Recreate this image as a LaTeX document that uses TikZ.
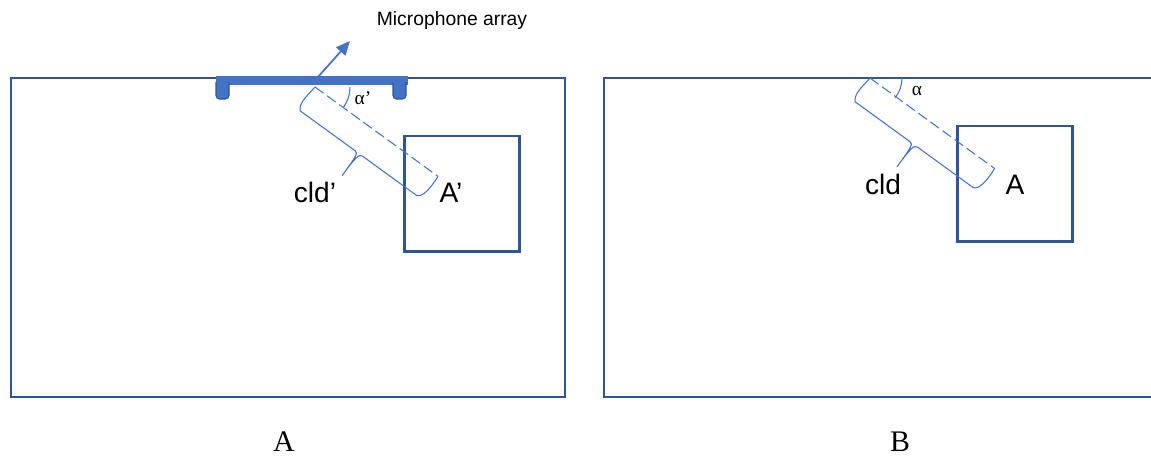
\documentclass[tikz,border=0pt]{standalone}
\usepackage{fontspec}
\setmainfont{Liberation Serif}
\setsansfont{Liberation Sans}
\usetikzlibrary{arrows.meta}
\definecolor{frameblue}{HTML}{2F5597}
\definecolor{lineblue}{HTML}{4472C4}
\tikzset{
  frame/.style={draw=frameblue,line width=1.4pt},
  roombox/.style={draw=frameblue,line width=1.7pt},
  guide/.style={draw=lineblue,line width=0.6pt},
  lbl/.style={font=\sffamily\fontsize{16}{16}\selectfont},
  anglbl/.style={font=\fontsize{11}{11}\selectfont},
  caption/.style={font=\fontsize{17}{17}\selectfont},
}
\begin{document}
\begin{tikzpicture}[x=0.02cm,y=-0.02cm]
\useasboundingbox (0,0) rectangle (1151,457);
% --- left picture (A) ---
\draw[frame] (11,78) rectangle (565,397);
\draw[roombox] (404,136) rectangle (519,251);
% microphone array on the top wall
\fill[lineblue] (216,76) rectangle (408,85);
\filldraw[fill=lineblue,draw=frameblue,line width=0.6pt,rounded corners=2pt] (216,82) -- (216,99) -- (229,99) -- (229,82);
\filldraw[fill=lineblue,draw=frameblue,line width=0.6pt,rounded corners=2pt] (393,82) -- (393,99) -- (406,99) -- (406,82);
\coordinate (micS) at (318,77);
\coordinate (micE) at (350,41);
\draw[lineblue,line width=1pt,-{Triangle[length=8pt,width=7pt]}] (micS) -- (micE);
\node[font=\sffamily\fontsize{11}{11}\selectfont] (micLbl) at (452,20) {Microphone array};
% --- direction and distance (left) ---
\coordinate (pL) at (315,87);
\begin{scope}[shift={(pL)},rotate=-36]
\draw[guide,dash pattern=on 6pt off 2.5pt] (0,0) -- (152,0);
\draw[guide] (0,0) .. controls (-1,12) and (-4,22) .. (2,28) -- (70,28) .. controls (74,28) and (74,33) .. (74,56)
  .. controls (74,33) and (75,28) .. (79,28) -- (146,28) .. controls (152,26) and (153,14) .. (152,0);
\end{scope}
\draw[guide] (pL) ++(35,0) arc[start angle=0,end angle=-36,radius=0.7cm];
\node[anglbl] (alphaL) at (363,98) {α’};
\node[lbl] (cldL) at (315,192) {cld’};
\node[lbl] (boxLbl) at (451,193) {A’};
\node[caption] (capA) at (284,442) {A};
% --- right picture (B) ---
\draw[frame] (1151,78) -- (604,78) -- (604,397) -- (1151,397);
\draw[roombox] (957,126) rectangle (1072,241);
\coordinate (pR) at (870,78);
\begin{scope}[shift={(pR)},rotate=-36]
\draw[guide,dash pattern=on 6pt off 2.5pt] (0,0) -- (154,0);
\draw[guide] (0,0) .. controls (-1,12) and (-4,22) .. (2,28) -- (70,28) .. controls (74,28) and (74,33) .. (74,56)
  .. controls (74,33) and (75,28) .. (79,28) -- (148,28) .. controls (154,26) and (155,14) .. (154,0);
\end{scope}
\draw[guide] (pR) ++(32,0) arc[start angle=0,end angle=-38,radius=0.64cm];
\node[anglbl] (alphaR) at (917,91) {α};
\node[lbl] (cldR) at (883,184) {cld};
\node[lbl] (boxRLbl) at (1015,185) {A};
\node[caption] (capB) at (900,442) {B};
\end{tikzpicture}
\end{document}
